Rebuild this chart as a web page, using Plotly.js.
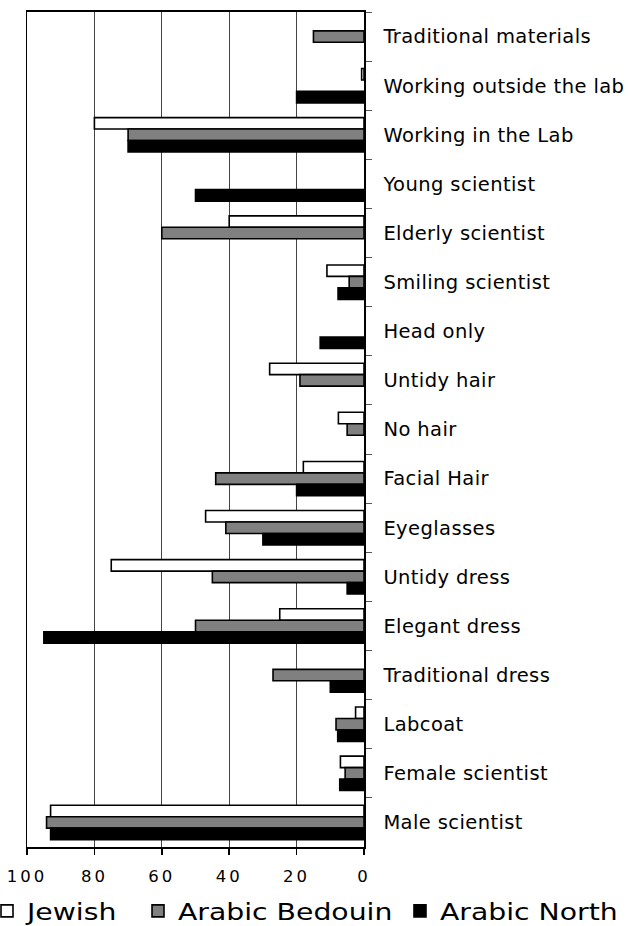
<!DOCTYPE html>
<html>
<head>
<meta charset="utf-8">
<script src="https://cdn.plot.ly/plotly-3.0.1.min.js"></script>
<style>
html,body{margin:0;padding:0;background:#fff;}
#chart{width:630px;height:926px;}
.xtick text{letter-spacing:3px;}
.ytick text{letter-spacing:0.4px;}
</style>
</head>
<body>
<div id="chart"></div>
<script>
const categories = ["Traditional materials","Working outside the lab","Working in the Lab","Young scientist","Elderly scientist","Smiling scientist","Head only","Untidy hair","No hair","Facial Hair","Eyeglasses","Untidy dress","Elegant dress","Traditional dress","Labcoat","Female scientist","Male scientist"];
const jewish        = [null, 0.7, 80, null, 40, 11, null, 28, 7.6, 18, 47, 75, 25, null, 2.5, 7, 93];
const arabicBedouin = [15, null, 70, null, 60, 4.4, null, 19, 5, 44, 41, 45, 50, 27, 8.3, 5.6, 94.2];
const arabicNorth   = [null, 20, 70, 50, null, 7.7, 13, null, null, 20, 30, 5, 95, 10, 7.8, 7.2, 93];
const seriesNames = ["Jewish","Arabic Bedouin","Arabic North"];
const xTicks = [0, 20, 40, 60, 80, 100];

const colors = ["#ffffff","#808080","#000000"];
const legendIds = ["legend","legend2","legend3"];
const data = [jewish, arabicBedouin, arabicNorth].map((vals, i) => ({
  type: "bar", orientation: "h", name: seriesNames[i],
  y: categories, x: vals, legend: legendIds[i],
  marker: {color: colors[i], line: {color: "#000", width: 1.6}},
  hoverinfo: "x+y"
}));

const legendBase = {orientation: "h", xanchor: "left", y: -0.0765, yanchor: "middle",
  font: {size: 23, color: "#000", family: "DejaVu Sans, sans-serif"},
  entrywidth: 225, entrywidthmode: "pixels",
  bgcolor: "rgba(0,0,0,0)", borderwidth: 0};

const layout = {
  width: 630, height: 926,
  margin: {l: 27, r: 266, t: 12, b: 79, autoexpand: false},
  paper_bgcolor: "#fff", plot_bgcolor: "#fff",
  barmode: "group", bargap: 0.3, bargroupgap: 0,
  font: {family: "DejaVu Sans, sans-serif", color: "#000"},
  showlegend: true,
  legend:  Object.assign({}, legendBase, {x: -0.1187}),
  legend2: Object.assign({}, legendBase, {x: 0.3294}),
  legend3: Object.assign({}, legendBase, {x: 1.1068}),
  xaxis: {range: [100, 0], tickvals: xTicks, ticktext: xTicks.map(String),
          showgrid: true, gridcolor: "#444", gridwidth: 1,
          showline: true, linecolor: "#000", linewidth: 2, mirror: true,
          ticks: "outside", ticklen: 6, tickcolor: "#000", tickwidth: 1.5,
          tickfont: {size: 16.5}, ticklabelstandoff: 7, zeroline: false, fixedrange: true},
  yaxis: {side: "right", type: "category", categoryorder: "array", categoryarray: categories,
          autorange: "reversed", tickson: "boundaries",
          ticks: "outside", ticklen: 6, tickcolor: "#555", tickwidth: 1,
          showgrid: false, showline: true, linecolor: "#000", linewidth: 1.5, mirror: true,
          tickfont: {size: 19.5}, ticklabelstandoff: 14, fixedrange: true}
};

const STRETCH = 1.23;
function stretchLegendTexts() {
  document.querySelectorAll("#chart text").forEach(t => {
    const g = t.closest("g.legend, g.legend2, g.legend3, g[class^='legend']");
    if (!g && !t.classList.contains("legendtext")) return;
    const prev = t.getAttribute("transform") || "";
    if (prev.indexOf("scale(") !== -1) return;
    const x0 = parseFloat(t.getAttribute("x")) || 0;
    t.setAttribute("transform", prev + " translate(" + (x0 * (1 - STRETCH)) + ",0) scale(" + STRETCH + ",1)");
  });
}

const chartDiv = document.getElementById("chart");
Plotly.newPlot(chartDiv, data, layout, {displayModeBar: false, staticPlot: true}).then(() => {
  stretchLegendTexts();
  const obs = new MutationObserver(() => stretchLegendTexts());
  obs.observe(chartDiv, {childList: true, subtree: true, attributes: true, attributeFilter: ["transform", "x"]});
  setTimeout(stretchLegendTexts, 50);
  setTimeout(stretchLegendTexts, 300);
});
</script>
</body>
</html>
